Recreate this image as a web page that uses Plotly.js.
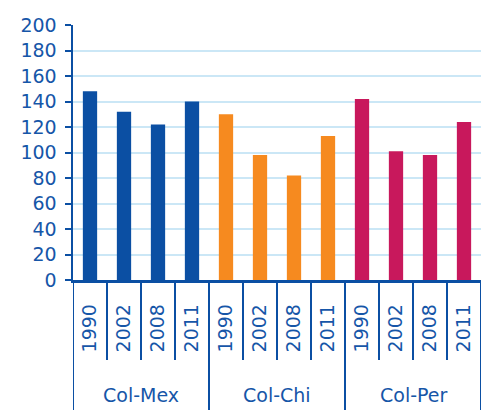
<!DOCTYPE html>
<html><head><meta charset="utf-8">
<script src="https://cdn.plot.ly/plotly-3.0.1.min.js"></script>
<style>html,body{margin:0;padding:0;background:#fff}#chart{width:485px;height:410px}</style>
</head><body><div id="chart"></div>
<script>
const groups = ["Col-Mex", "Col-Chi", "Col-Per"];
const years = ["1990", "2002", "2008", "2011"];
const colMex = [148, 132, 122, 140];
const colChi = [130, 98, 82, 113];
const colPer = [142, 101, 98, 124];
const colors = ["#0b4fa3", "#f68a1f", "#c8185c"];
const yTicks = [0, 20, 40, 60, 80, 100, 120, 140, 160, 180, 200];

const series = [colMex, colChi, colPer];
const cats = [], tickText = [];
groups.forEach(g => years.forEach(y => { cats.push(g + " " + y); tickText.push(y); }));

const traces = groups.map((g, i) => ({
  type: "bar",
  x: years.map(y => g + " " + y),
  y: series[i],
  name: g,
  width: 0.42,
  marker: {color: colors[i]},
  hoverinfo: "x+y"
}));

const axisColor = "#0b4fa3";
const txtColor = "#1656a8";
const font = "DejaVu Sans, sans-serif";

const shapes = [];
// long group dividers
for (let gi = 0; gi <= groups.length; gi++) {
  const v = gi * years.length - 0.5;
  shapes.push({type: "line", xref: "x", yref: "paper", x0: v, x1: v, y0: 0, y1: -0.52,
    line: {color: axisColor, width: 2}});
}
// short separators between years
for (let k = 1; k < cats.length; k++) {
  if (k % years.length === 0) continue;
  const v = k - 0.5;
  shapes.push({type: "line", xref: "x", yref: "paper", x0: v, x1: v, y0: 0, y1: -80 / 255,
    line: {color: axisColor, width: 2}});
}

const annotations = groups.map((g, i) => ({
  xref: "x", yref: "paper", x: i * years.length + (years.length - 1) / 2, y: -0.451, text: g, showarrow: false,
  font: {family: font, size: 19, color: txtColor}, xanchor: "center", yanchor: "middle"
}));

Plotly.newPlot("chart", traces, {
  width: 485, height: 410,
  margin: {l: 73, r: 4, t: 25, b: 130},
  paper_bgcolor: "#fff", plot_bgcolor: "#fff",
  showlegend: false,
  barmode: "overlay",
  xaxis: {
    type: "category", categoryorder: "array", categoryarray: cats,
    tickmode: "array", tickvals: cats, ticktext: tickText,
    ticks: "", tickangle: -90, ticklabelstandoff: 14,
    tickfont: {family: font, size: 19, color: txtColor},
    showline: true, linecolor: axisColor, linewidth: 2.5,
    showgrid: false, zeroline: false, range: [-0.5, 11.5], fixedrange: true
  },
  yaxis: {
    range: [0, 200], tickmode: "array", tickvals: yTicks,
    ticks: "outside", ticklen: 6, tickwidth: 2, tickcolor: axisColor,
    ticklabelstandoff: 4,
    tickfont: {family: font, size: 19, color: txtColor},
    showline: true, linecolor: axisColor, linewidth: 2.5,
    showgrid: true, gridcolor: "#cbe7f6", gridwidth: 2,
    zeroline: false, fixedrange: true
  },
  shapes: shapes,
  annotations: annotations
}, {displayModeBar: false, staticPlot: true});
</script></body></html>
